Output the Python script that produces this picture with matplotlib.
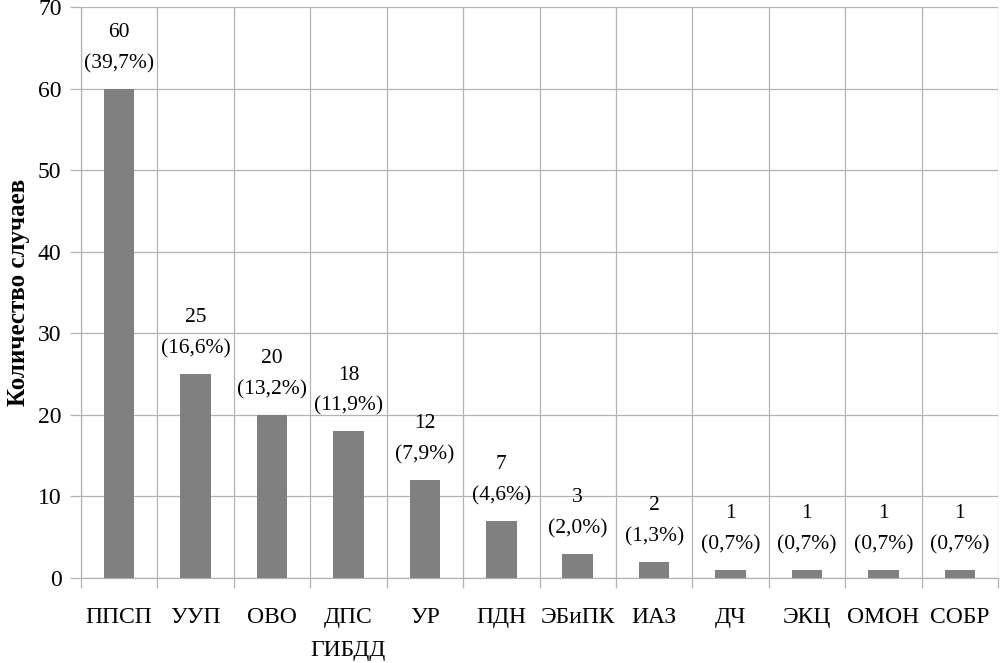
import numpy as np
import matplotlib
matplotlib.use('Agg')
import matplotlib.pyplot as plt

categories = ['ППСП', 'УУП', 'ОВО', 'ДПС\nГИБДД', 'УР', 'ПДН', 'ЭБиПК', 'ИАЗ', 'ДЧ', 'ЭКЦ', 'ОМОН', 'СОБР']
counts = [60, 25, 20, 18, 12, 7, 3, 2, 1, 1, 1, 1]
percents = ['39,7', '16,6', '13,2', '11,9', '7,9', '4,6', '2,0', '1,3', '0,7', '0,7', '0,7', '0,7']
yticks = [0, 10, 20, 30, 40, 50, 60, 70]

plt.rcParams['font.family'] = ['Liberation Serif', 'DejaVu Serif']
plt.rcParams['font.size'] = 17

fig = plt.figure(figsize=(10.02, 6.63), dpi=100)
ax = fig.add_axes([81/1002, 1-578/663, 917/1002, 571/663])

x = np.arange(len(categories))
ax.bar(x, counts, width=0.4, color='#808080', zorder=3)

for xi, c, p in zip(x, counts, percents):
    ax.annotate(f'{c}\n({p}%)', (xi, c), xytext=(0, 11), textcoords='offset points',
                ha='center', va='bottom', fontsize=15.5, linespacing=1.85)

ax.set_xlim(-0.5, len(categories) - 0.5)
ax.set_ylim(0, 70)
ax.set_yticks(yticks)
ax.set_xticks(x)
ax.set_xticklabels(categories, linespacing=1.75, va='top')
ax.set_xticks(np.arange(len(categories) + 1) - 0.5, minor=True)

ax.grid(axis='y', which='major', color='#b3b3b3', linewidth=0.9, zorder=0)
ax.grid(axis='x', which='minor', color='#b3b3b3', linewidth=0.9, zorder=0)
ax.tick_params(axis='x', which='major', length=0, pad=21)
ax.tick_params(axis='x', which='minor', length=7, color='#b3b3b3', width=0.9)
ax.tick_params(axis='y', length=8, color='#b3b3b3', width=0.9, pad=6)

for s in ['top', 'right']:
    ax.spines[s].set_visible(False)
ax.spines['left'].set_color('#b3b3b3')
ax.spines['bottom'].set_color('#b3b3b3')
ax.spines['left'].set_linewidth(0.9)
ax.spines['bottom'].set_linewidth(0.9)

ax.set_ylabel('Количество случаев', fontsize=18, fontweight='bold', labelpad=6)

fig.savefig('out.png', dpi=100)
